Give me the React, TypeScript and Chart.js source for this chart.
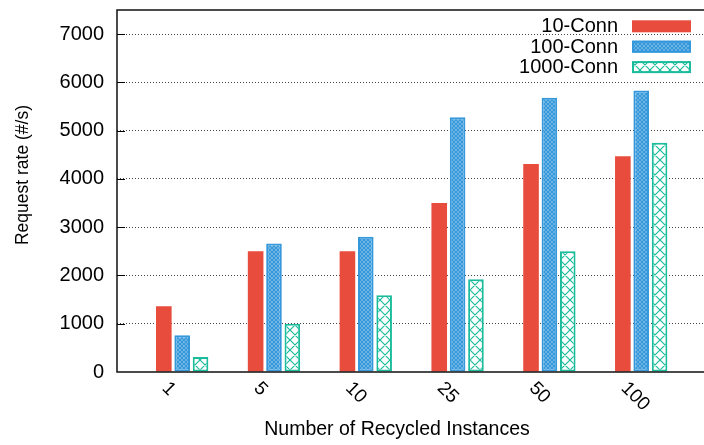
import React, { useEffect, useRef } from 'react';
import { Chart, registerables } from 'chart.js';

Chart.register(...registerables);

const categories = ['1', '5', '10', '25', '50', '100'];
const seriesLabels = ['10-Conn', '100-Conn', '1000-Conn'];
const conn10 = [1360, 2500, 2500, 3500, 4310, 4470];
const conn100 = [760, 2660, 2800, 5280, 5680, 5830];
const conn1000 = [310, 1000, 1590, 1920, 2500, 4750];
const yTickValues = [0, 1000, 2000, 3000, 4000, 5000, 6000, 7000];
const xTitle = 'Number of Recycled Instances';
const yTitle = 'Request rate (#/s)';

const RED = '#e74c3c';
const BLUE = '#3498db';
const GREEN = '#1abc9c';
const FONT = "'Liberation Sans', Arial, Helvetica, sans-serif";

function makeCrossPattern(size: number, color: string, lw: number, bg: string) {
  const c = document.createElement('canvas');
  c.width = size;
  c.height = size;
  const g = c.getContext('2d')!;
  g.fillStyle = bg;
  g.fillRect(0, 0, size, size);
  g.strokeStyle = color;
  g.lineWidth = lw;
  g.beginPath();
  for (const dx of [-size, 0, size]) {
    g.moveTo(dx, 0);
    g.lineTo(dx + size, size);
    g.moveTo(dx + size, 0);
    g.lineTo(dx, size);
  }
  g.stroke();
  return g.createPattern(c, 'repeat')!;
}

export default function App() {
  const ref = useRef<HTMLCanvasElement | null>(null);

  useEffect(() => {
    if (!ref.current) return;
    const bluePat = makeCrossPattern(4, BLUE, 1.8, '#ffffff');
    const greenPat = makeCrossPattern(10, GREEN, 1.2, '#ffffff');

    const fills = [RED, bluePat, greenPat];
    const borders = [RED, BLUE, GREEN];
    const borderWidths = [0, 2, 2];
    const values = [conn10, conn100, conn1000];

    const decor = {
      id: 'decor',
      afterDatasetsDraw(chart: any) {
        const { ctx, chartArea: a, scales } = chart;
        const x = scales.x;
        const y = scales.y;
        ctx.save();
        // inner tick marks
        ctx.strokeStyle = '#000';
        ctx.lineWidth = 1;
        ctx.setLineDash([]);
        for (const v of yTickValues) {
          if (v === 0) continue;
          const py = Math.round(y.getPixelForValue(v)) + 0.5;
          ctx.beginPath();
          ctx.moveTo(a.left, py);
          ctx.lineTo(a.left + 8, py);
          ctx.stroke();
        }
        // frame
        ctx.strokeStyle = '#111';
        ctx.lineWidth = 1.5;
        ctx.beginPath();
        ctx.moveTo(a.right + 2, a.top);
        ctx.lineTo(a.left, a.top);
        ctx.lineTo(a.left, a.bottom);
        ctx.lineTo(a.right + 2, a.bottom);
        ctx.stroke();

        // x tick labels, rotated
        ctx.fillStyle = '#000';
        ctx.font = `19px ${FONT}`;
        ctx.textAlign = 'left';
        ctx.textBaseline = 'alphabetic';
        categories.forEach((lab, i) => {
          const px = x.getPixelForValue(i);
          ctx.save();
          ctx.translate(px - 21, a.bottom + 17);
          ctx.rotate(Math.PI / 4);
          ctx.fillText(lab, 0, 0);
          ctx.restore();
        });

        // x title
        ctx.font = `19.5px ${FONT}`;
        ctx.textAlign = 'center';
        ctx.textBaseline = 'middle';
        ctx.fillText(xTitle, 397, 430);

        // y title
        ctx.save();
        ctx.font = `17.5px ${FONT}`;
        ctx.textAlign = 'center';
        ctx.textBaseline = 'middle';
        ctx.translate(23, 175);
        ctx.rotate(-Math.PI / 2);
        ctx.fillText(yTitle, 0, 0);
        ctx.restore();

        // legend
        ctx.font = `20px ${FONT}`;
        ctx.textAlign = 'right';
        ctx.textBaseline = 'middle';
        chart.data.datasets.forEach((ds: any, i: number) => {
          const cy = 26.3 + 20.4 * i;
          ctx.fillStyle = '#000';
          ctx.fillText(ds.label, 618, cy + 0.5);
          const bx = 632, bw = 59, bh = 12, by = cy - bh / 2;
          ctx.fillStyle = fills[i];
          ctx.fillRect(bx, by, bw, bh);
          if (borderWidths[i] > 0) {
            ctx.strokeStyle = borders[i];
            ctx.lineWidth = 2;
            ctx.strokeRect(bx + 1, by + 1, bw - 2, bh - 2);
          }
        });
        ctx.restore();
      },
    };

    const chart = new Chart(ref.current, {
      type: 'bar',
      data: {
        datasets: seriesLabels.map((label, s) => ({
          label,
          data: values[s].map((v, i) => ({ x: i, y: v })),
          backgroundColor: fills[s] as any,
          borderColor: borders[s],
          borderWidth: borderWidths[s],
          borderSkipped: false,
          categoryPercentage: 0.6,
          barPercentage: 0.85,
        })),
      },
      options: {
        animation: false,
        responsive: false,
        maintainAspectRatio: false,
        layout: { padding: { top: 10, left: 0, right: 0, bottom: 0 } },
        plugins: {
          legend: { display: false },
          tooltip: { enabled: false },
        },
        scales: {
          x: {
            type: 'linear',
            min: -0.71,
            max: 5.684,
            offset: false,
            afterBuildTicks: (s: any) => {
              s.ticks = categories.map((_, i) => ({ value: i }));
            },
            grid: { display: false },
            border: { display: false },
            ticks: { display: false },
            title: { display: false },
            afterFit: (s: any) => {
              s.height = 73;
              s.paddingLeft = 0;
              s.paddingRight = 0;
            },
          },
          y: {
            type: 'linear',
            min: 0,
            max: 7500,
            afterBuildTicks: (s: any) => {
              s.ticks = yTickValues.map((v) => ({ value: v }));
            },
            grid: {
              drawTicks: false,
              color: (c: any) => (c.tick && c.tick.value === 0 ? 'rgba(0,0,0,0)' : '#444'),
              lineWidth: 1,
            },
            border: { display: false, dash: [1, 2] },
            ticks: {
              color: '#000',
              padding: 13,
              font: { family: FONT, size: 20 },
              callback: (v: any) => String(v),
            },
            afterFit: (s: any) => {
              s.width = 117;
              s.paddingTop = 0;
              s.paddingBottom = 0;
            },
          },
        },
      },
      plugins: [decor],
    });

    return () => chart.destroy();
  }, []);

  return (
    <div style={{ position: 'absolute', left: 0, top: 0, width: 704, height: 445 }}>
      <canvas ref={ref} width={704} height={445} style={{ width: 704, height: 445 }} />
    </div>
  );
}
